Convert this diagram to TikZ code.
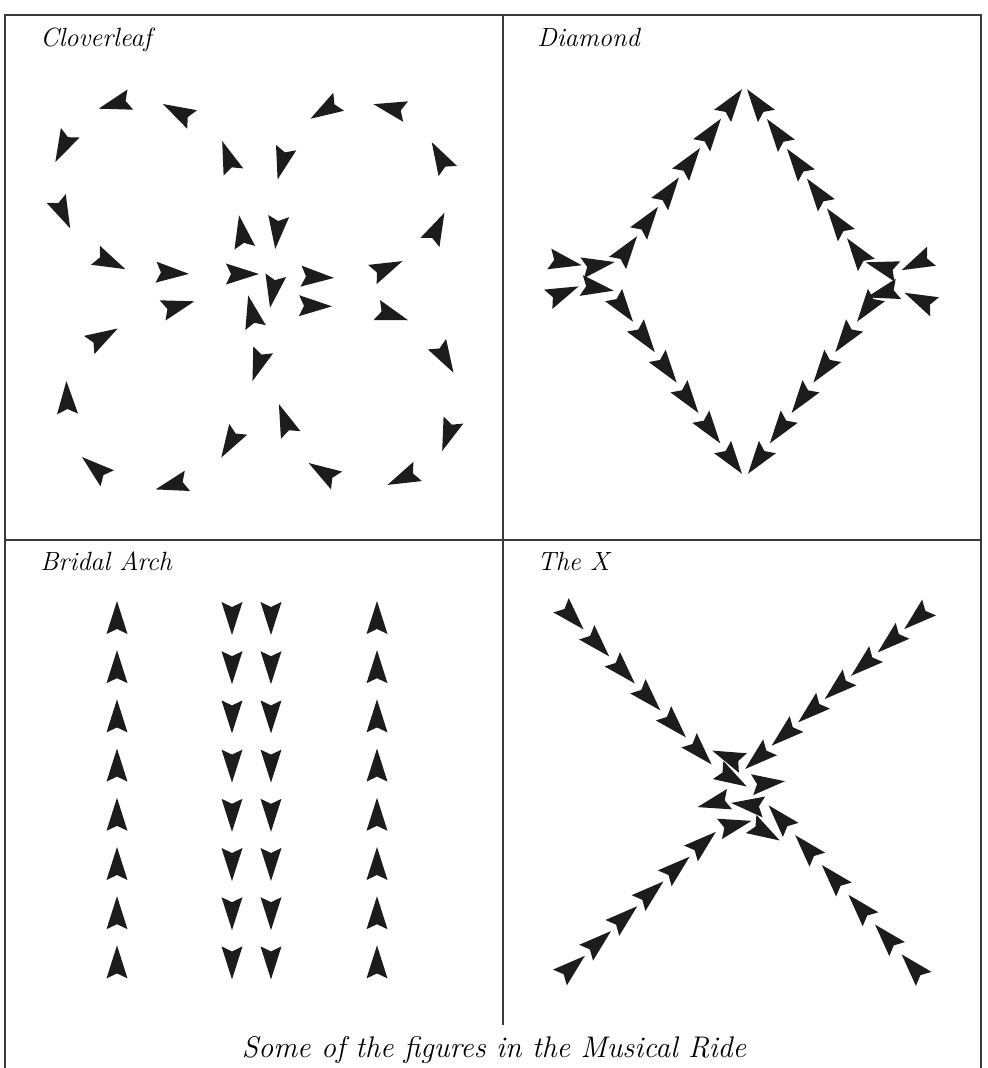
\documentclass[tikz,border=0pt]{standalone}
\usepackage{tikz}
\definecolor{ink}{HTML}{1C1C1C}
\definecolor{rule}{HTML}{3A3A3A}
\tikzset{
  % one rider = one dart, drawn along +x and turned with rotate
  dart/.pic={\fill[ink] (17,0) -- (-16,10.5) -- (-11,0) -- (-16,-10.5) -- cycle;},
  frame/.style={draw=rule, line width=0.9pt},
  lbl/.style={font=\fontsize{15}{17}\selectfont\itshape, anchor=base west, inner sep=0pt},
  captxt/.style={font=\fontsize{17}{20}\selectfont\itshape, anchor=base, inner sep=0pt},
}

\begin{document}
\begin{tikzpicture}[x=0.02cm, y=-0.02cm]
\useasboundingbox (0,0) rectangle (987,1068);

% =====================================================================
% FRAME: outer box (open at the bottom), cross dividers
% =====================================================================
\draw[frame] (5,1068) -- (5,15) -- (981,15) -- (981,1068);
\draw[frame] (5,540) -- (981,540);
\draw[frame] (503,15) -- (503,1025);

% ── panel titles ─────────────────────────────────────────────────────
\node[lbl] (tClover)  at (40,47)  {Cloverleaf};
\node[lbl] (tDiamond) at (537,47) {Diamond};
\node[lbl] (tArch)    at (40,570) {Bridal Arch};
\node[lbl] (tX)       at (537,570) {The X};
\node[captxt] (caption) at (494,1057) {Some of the figures in the Musical Ride};

% =====================================================================
% CLOVERLEAF  (x / y / heading)
% =====================================================================
\foreach \x/\y/\a in {115/104/196, 178/112/152, 63/147/243, 63/213/295,
    110/262/-25, 172/273/-3, 228/157/110, 242/232/100,
    277/232/264, 282/163/255, 325/110/211, 390/108/167, 440/157/119,
    437/228/64, 387/268/24, 317/277/-3, 273/291/260, 242/274/0,
    178/306/16, 103/337/30, 67/398/92, 95/468/140, 172/485/195,
    230/443/239, 258/365/251,
    252/312/103, 285/420/111, 323/472/148, 403/478/204, 448/435/250,
    445/358/300, 392/315/-18, 315/306/-1}
  \pic[rotate=\a] at (\x,\y) {dart};

% =====================================================================
% DIAMOND
% =====================================================================
% side points (two files each)
\foreach \x/\y/\a in {565/262/-11, 563/293/23, 598/265/10, 597/288/-9,
    917/263/205, 920/300/155, 882/267/164, 883/293/195}
  \pic[rotate=\a] at (\x,\y) {dart};
% the four edges
\foreach \i in {0,...,5} {
  \pic[rotate=54]  at ({627+21*\i},{250-29.4*\i}) {dart};
  \pic[rotate=126] at ({857-20*\i},{252-29.8*\i}) {dart};
  \pic[rotate=-54] at ({623+21.8*\i},{308+30.4*\i}) {dart};
  \pic[rotate=234] at ({867-21.8*\i},{308+30.4*\i}) {dart};
}

% =====================================================================
% BRIDAL ARCH
% =====================================================================
\foreach \i in {0,...,7} {
  \pic[rotate=90]  at (117,{618+49.2*\i}) {dart};
  \pic[rotate=-90] at (232,{618+49.2*\i}) {dart};
  \pic[rotate=-90] at (271,{618+49.2*\i}) {dart};
  \pic[rotate=90]  at (377,{618+49.2*\i}) {dart};
}

% =====================================================================
% THE X
% =====================================================================
\foreach \i in {0,...,5} {
  \pic[rotate=-47] at ({572+25.6*\i},{617+27*\i}) {dart};
  \pic[rotate=132] at ({913-26.6*\i},{967-29.8*\i}) {dart};
  \pic[rotate=41]  at ({572+26.2*\i},{967-24.8*\i}) {dart};
}
\foreach \i in {0,...,6}
  \pic[rotate=221] at ({917-26.5*\i},{618+23.3*\i}) {dart};
% crossing knot
\foreach \x/\y/\a in {728/757/158, 732/778/-30, 768/783/6, 714/803/194,
    748/805/173, 735/825/14, 765/832/-30}
  \pic[rotate=\a] at (\x,\y) {dart};

\end{tikzpicture}
\end{document}
